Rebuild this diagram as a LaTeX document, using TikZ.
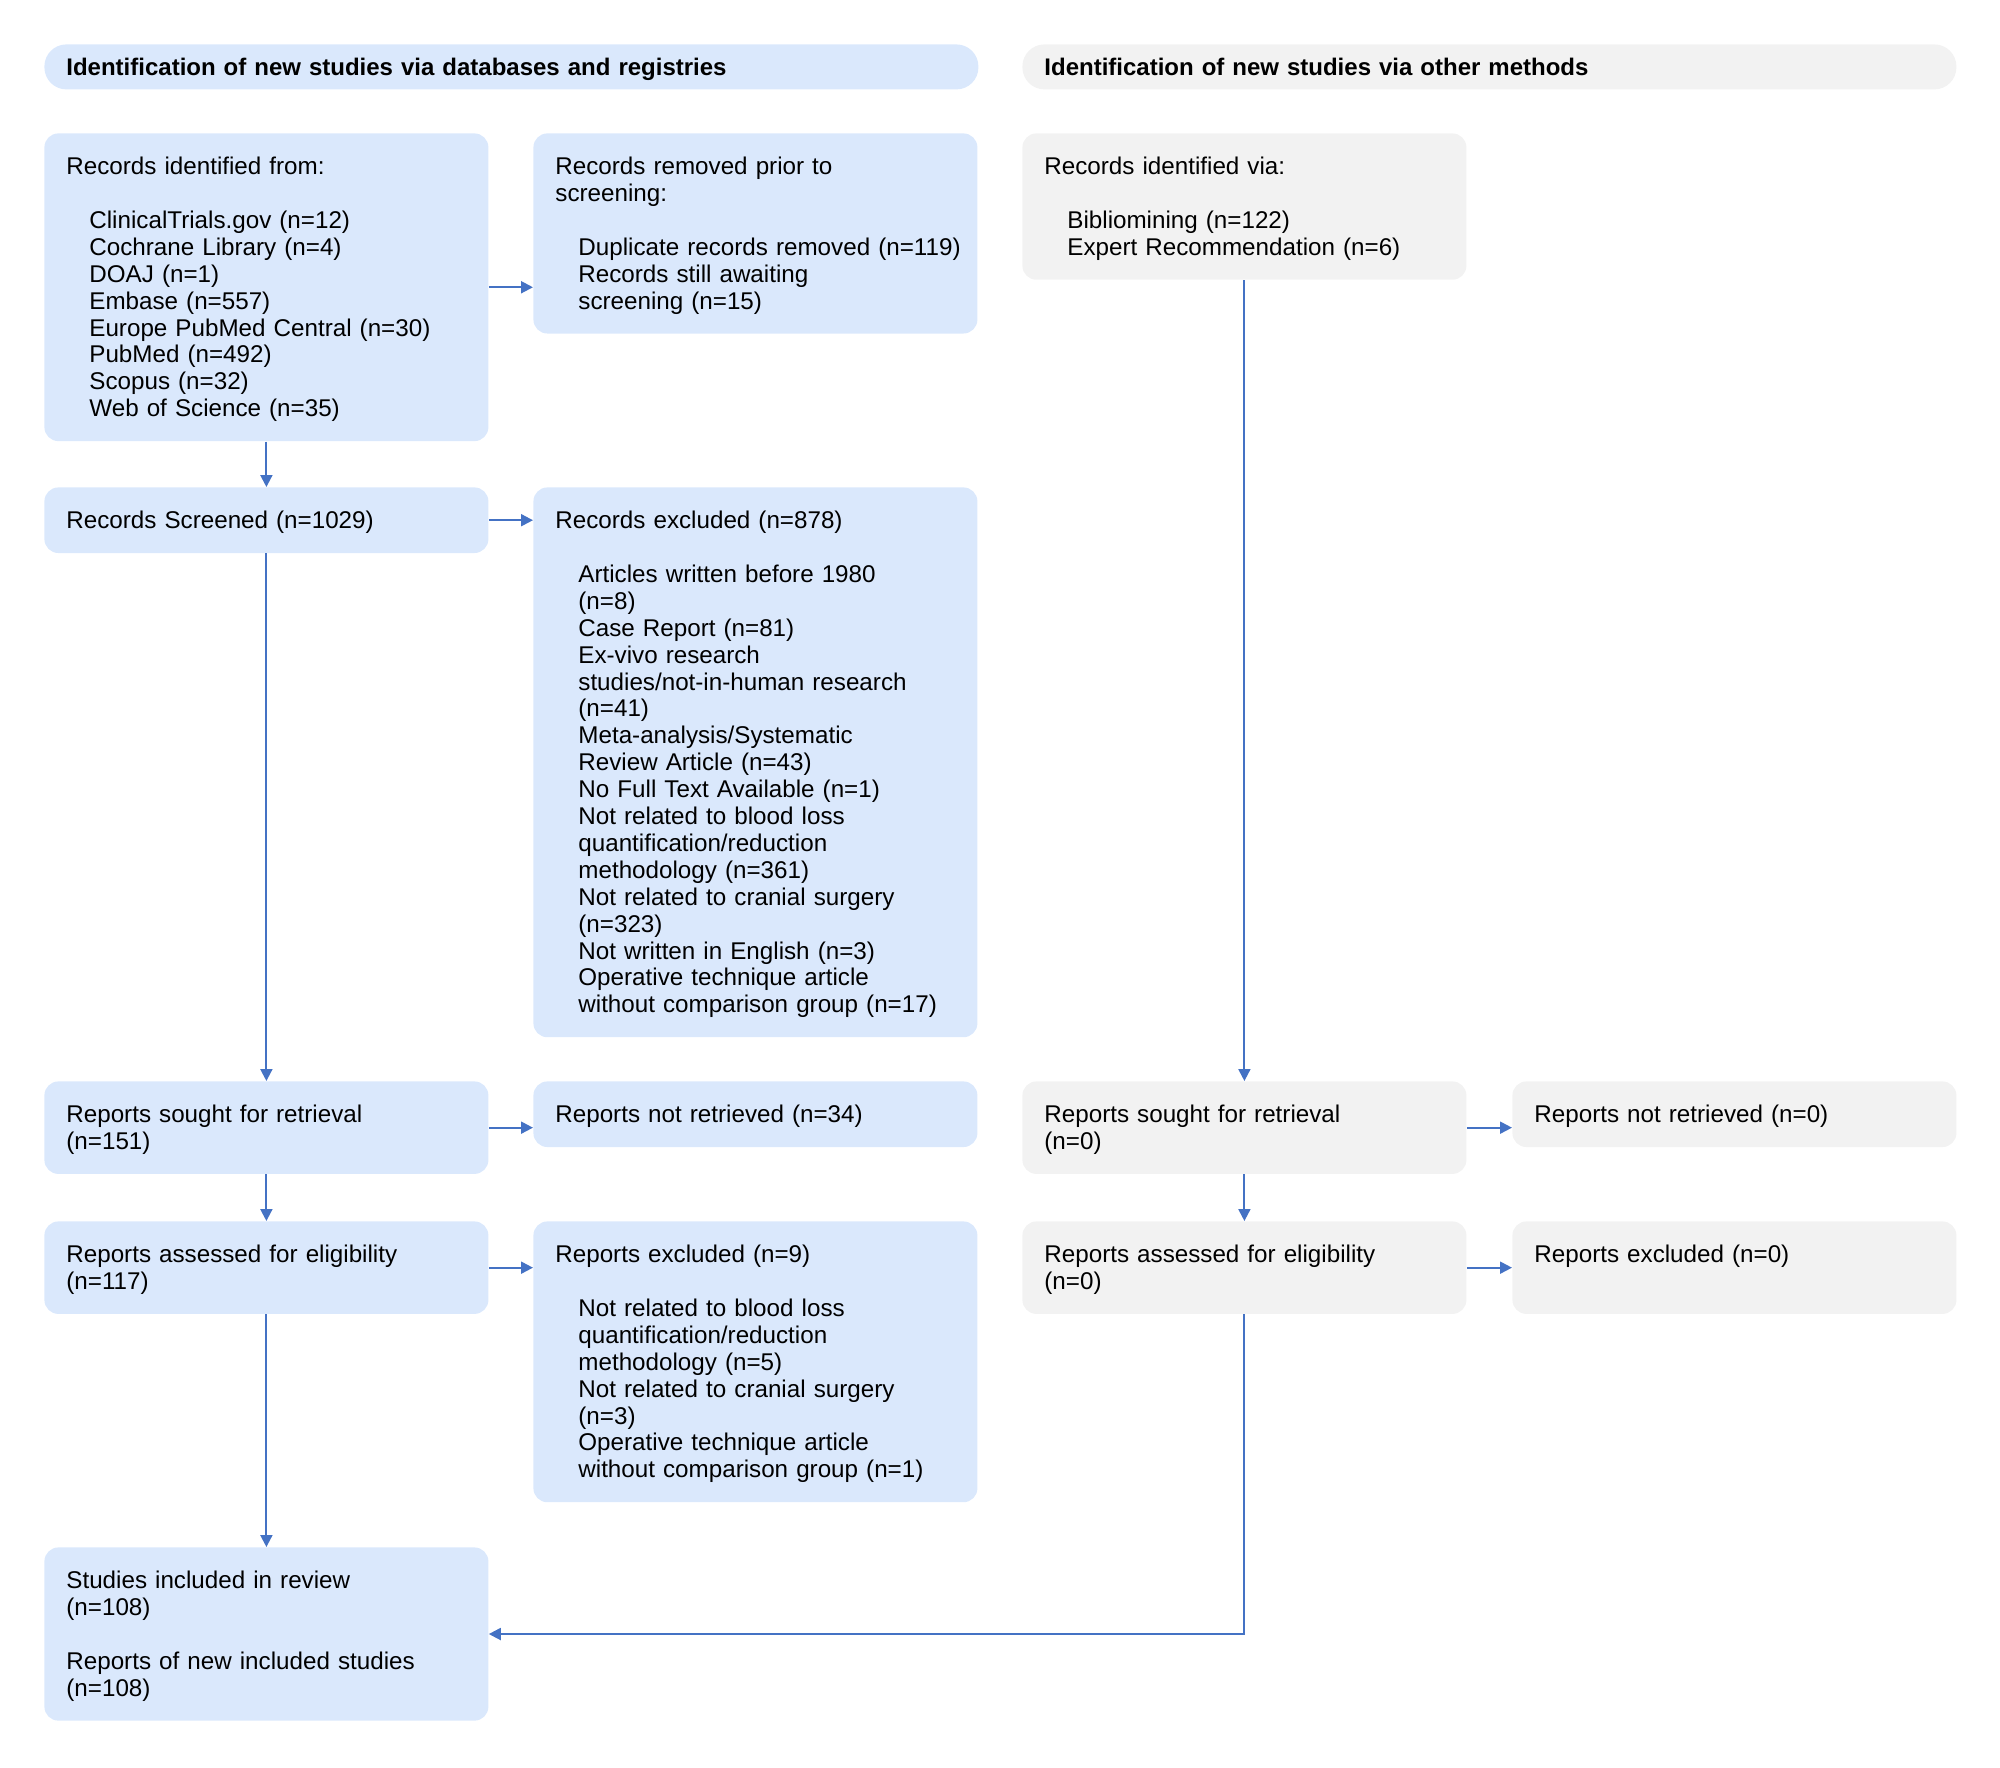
\documentclass[tikz,border=0pt]{standalone}
\usepackage{fontspec}
\setmainfont{Liberation Sans}
\usetikzlibrary{arrows.meta}

\definecolor{dbblue}{HTML}{DAE8FC}
\definecolor{othergray}{HTML}{F2F2F2}
\definecolor{linkblue}{HTML}{4472C4}

\newcommand{\itm}[1]{\hspace*{11.5pt}\mbox{#1}}

\begin{document}
\begin{tikzpicture}[x=0.5pt, y=-0.5pt,
    box/.style={anchor=north west, rounded corners=7pt, inner xsep=11pt, inner ysep=9.7pt,
      text width=200pt, align=left, font=\fontsize{12.1}{13.45}\selectfont,
      execute at begin node={\rule{0pt}{10.9pt}}},
    dbbox/.style={box, fill=dbblue},
    otherbox/.style={box, fill=othergray},
    header/.style={anchor=north west, rounded corners=11pt, inner xsep=11pt, inner ysep=0pt,
      minimum height=22.5pt, text width=445pt, text depth=0pt, align=left,
      font=\bfseries\fontsize{12}{13.45}\selectfont},
    link/.style={draw=linkblue, line width=1pt, -{Triangle[length=6pt, width=6pt]}}]
  \useasboundingbox (0,0) rectangle (2000,1767);

  % phase headers
  \node [header, fill=dbblue] (hdb) at (44,44) {Identification of new studies via databases and registries};
  \node [header, fill=othergray] (hother) at (1022,44) {Identification of new studies via other methods};

  % databases and registries
  \node [dbbox] (ident) at (44,133) {Records identified from:\\[13.45pt]
    \itm{ClinicalTrials.gov (n=12)}\\ \itm{Cochrane Library (n=4)}\\ \itm{DOAJ (n=1)}\\
    \itm{Embase (n=557)}\\ \itm{Europe PubMed Central (n=30)}\\ \itm{PubMed (n=492)}\\
    \itm{Scopus (n=32)}\\ \itm{Web of Science (n=35)}};
  \node [dbbox] (removed) at (533,133) {Records removed prior to\\ screening:\\[13.45pt]
    \itm{Duplicate records removed (n=119)}\\ \itm{Records still awaiting}\\ \itm{screening (n=15)}};
  \node [dbbox] (screened) at (44,487) {Records Screened (n=1029)};
  \node [dbbox] (excluded) at (533,487) {Records excluded (n=878)\\[13.45pt]
    \itm{Articles written before 1980}\\ \itm{(n=8)}\\ \itm{Case Report (n=81)}\\
    \itm{Ex-vivo research}\\ \itm{studies/not-in-human research}\\ \itm{(n=41)}\\
    \itm{Meta-analysis/Systematic}\\ \itm{Review Article (n=43)}\\ \itm{No Full Text Available (n=1)}\\
    \itm{Not related to blood loss}\\ \itm{quantification/reduction}\\ \itm{methodology (n=361)}\\
    \itm{Not related to cranial surgery}\\ \itm{(n=323)}\\ \itm{Not written in English (n=3)}\\
    \itm{Operative technique article}\\ \itm{without comparison group (n=17)}};
  \node [dbbox] (sought) at (44,1081) {Reports sought for retrieval\\ (n=151)};
  \node [dbbox] (notret) at (533,1081) {Reports not retrieved (n=34)};
  \node [dbbox] (assessed) at (44,1221) {Reports assessed for eligibility\\ (n=117)};
  \node [dbbox] (repexcl) at (533,1221) {Reports excluded (n=9)\\[13.45pt]
    \itm{Not related to blood loss}\\ \itm{quantification/reduction}\\ \itm{methodology (n=5)}\\
    \itm{Not related to cranial surgery}\\ \itm{(n=3)}\\
    \itm{Operative technique article}\\ \itm{without comparison group (n=1)}};
  \node [dbbox] (included) at (44,1547) {Studies included in review\\ (n=108)\\[13.45pt]
    Reports of new included studies\\ (n=108)};

  % other methods
  \node [otherbox] (oident) at (1022,133) {Records identified via:\\[13.45pt]
    \itm{Bibliomining (n=122)}\\ \itm{Expert Recommendation (n=6)}};
  \node [otherbox] (osought) at (1022,1081) {Reports sought for retrieval\\ (n=0)};
  \node [otherbox] (onotret) at (1512,1081) {Reports not retrieved (n=0)};
  \node [otherbox] (oassessed) at (1022,1221) {Reports assessed for eligibility\\ (n=0)};
  \node [otherbox] (orepexcl) at (1512,1221) {Reports excluded (n=0)\\ \phantom{(n=0)}};

  % connectors
  \foreach \a/\b in {ident/screened, screened/sought, sought/assessed, assessed/included,
      oident/osought, osought/oassessed}
    \draw [link] (\a) -- (\b);
  \foreach \a/\b in {ident/removed, screened/excluded, sought/notret, assessed/repexcl,
      osought/onotret, oassessed/orepexcl}
    \draw [link] (\a.east) -- (\a.east -| \b.west);
  \draw [link] (oassessed.south) |- (included.east);
\end{tikzpicture}
\end{document}
